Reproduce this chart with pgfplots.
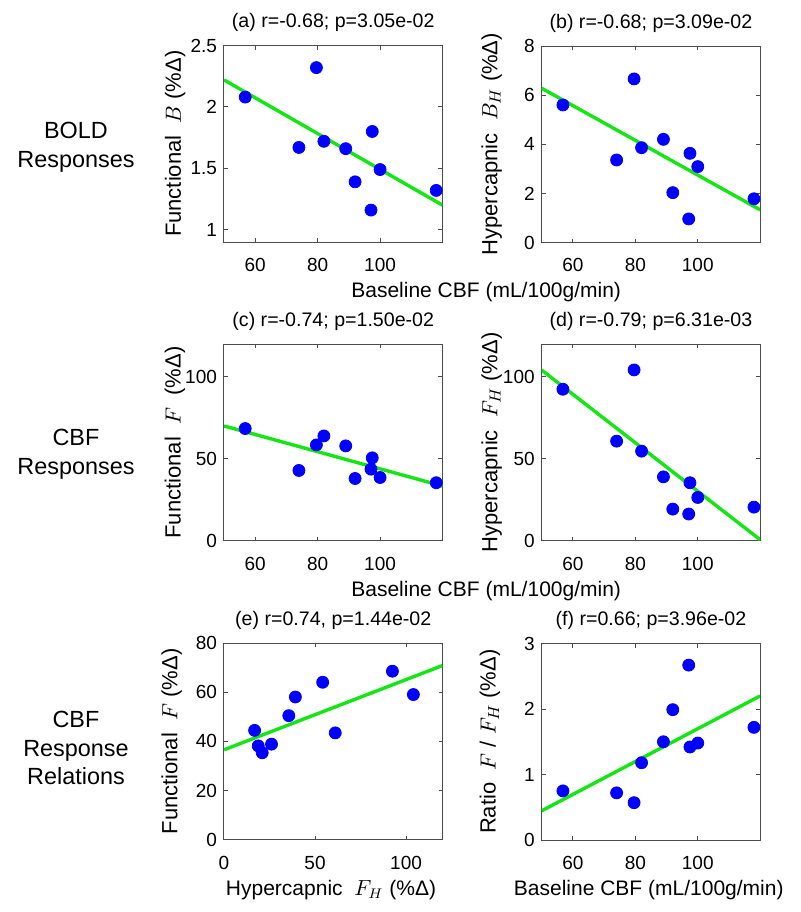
\documentclass[border=0pt]{standalone}
\usepackage{fontspec}
\setmainfont{Liberation Sans}
\usepackage{pgfplots}
\pgfplotsset{compat=1.18}
\definecolor{lgreen}{RGB}{20,230,20}
\pgfplotsset{
  panel/.style={
    scale only axis, width=109.25pt, height=98.25pt, anchor=south west,
    axis line style={black!70, line width=0.5pt},
    tick style={black!70, line width=0.5pt},
    tick align=inside, major tick length=2pt,
    tick label style={font=\fontsize{9.5}{11}\selectfont},
    xticklabel style={yshift=-4.5pt},
    /pgf/number format/assume math mode=true,
    every axis title shift=0pt,
    title style={font=\fontsize{9.8}{12}\selectfont, at={(axis description cs:0.5,1)}, anchor=center, yshift=11.5pt},
    ylabel style={font=\fontsize{11}{13}\selectfont, anchor=center},
    xlabel style={font=\fontsize{10.5}{12}\selectfont, anchor=center},
    scaled ticks=false,
  },
  cbfx/.style={xmin=50, xmax=120, xtick={60,80,100}},
  dots/.style={only marks, mark=*, mark size=3pt, color=blue, mark options={draw=blue, fill=blue}},
  fit/.style={no marks, color=lgreen, line width=1.7pt},
}
\begin{document}
\begin{tikzpicture}
\useasboundingbox (0,0) rectangle (400pt,-456pt);

% (a)
\begin{axis}[panel, cbfx, at={(112pt,-121pt)},
  ymin=0.9, ymax=2.5, ytick={1,1.5,2,2.5},
  title={(a) r=-0.68; p=3.05e-02},
  ylabel={Functional\ \ $B$ (\%Δ)},
  ylabel style={at={(axis description cs:-0.224,0.5)}},
  xlabel={Baseline CBF (mL/100g/min)},
  xlabel style={at={(axis description cs:1.2,-0.255)}}]
\addplot[fit] coordinates {(50,2.22) (120,1.20)};
\addplot[dots] coordinates {(56.8,2.08) (74,1.67) (79.6,2.32) (82,1.72) (89,1.66) (92,1.39) (97.1,1.16) (97.5,1.80) (100,1.49) (118,1.32)};
\end{axis}

% (b)
\begin{axis}[panel, cbfx, at={(270.85pt,-121.25pt)},
  ymin=0, ymax=8, ytick={0,2,4,6,8},
  title={(b) r=-0.68; p=3.09e-02},
  ylabel={Hypercapnic\ \ $B_H$ (\%Δ)},
  ylabel style={at={(axis description cs:-0.229,0.5)}}]
\addplot[fit] coordinates {(50,6.28) (120,1.33)};
\addplot[dots] coordinates {(56.8,5.60) (74,3.36) (79.6,6.66) (82,3.86) (89,4.20) (92,2.03) (97.1,0.96) (97.5,3.63) (100,3.09) (118,1.78)};
\end{axis}

% (c)
\begin{axis}[panel, cbfx, at={(112pt,-270.35pt)},
  ymin=0, ymax=120, ytick={0,50,100},
  title={(c) r=-0.74; p=1.50e-02},
  ylabel={Functional\ \ $F$\ \ (\%Δ)},
  ylabel style={at={(axis description cs:-0.224,0.5)}},
  xlabel={Baseline CBF (mL/100g/min)},
  xlabel style={at={(axis description cs:1.2,-0.255)}}]
\addplot[fit] coordinates {(50,70.1) (120,33.4)};
\addplot[dots] coordinates {(56.8,68.5) (74,42.9) (79.6,58.5) (82,64.0) (89,57.9) (92,38.0) (97.1,43.7) (97.5,50.6) (100,38.6) (118,35.4)};
\end{axis}

% (d)
\begin{axis}[panel, cbfx, at={(270.85pt,-270.35pt)},
  ymin=0, ymax=120, ytick={0,50,100},
  title={(d) r=-0.79; p=6.31e-03},
  ylabel={Hypercapnic\ \ $F_H$ (\%Δ)},
  ylabel style={at={(axis description cs:-0.229,0.5)}}]
\addplot[fit] coordinates {(50,104.2) (120,0.6)};
\addplot[dots] coordinates {(56.8,92.5) (74,60.8) (79.6,104.3) (82,54.7) (89,39.0) (92,19.3) (97.1,16.3) (97.5,35.4) (100,26.4) (118,20.5)};
\end{axis}

% (e)
\begin{axis}[panel, at={(112pt,-419.85pt)},
  xmin=0, xmax=120, xtick={0,50,100},
  ymin=0, ymax=80, ytick={0,20,40,60,80},
  title={(e) r=0.74, p=1.44e-02},
  ylabel={Functional\ \ $F$\ (\%Δ)},
  ylabel style={at={(axis description cs:-0.239,0.5)}},
  xlabel={Hypercapnic\ \ $F_H$ (\%Δ)},
  xlabel style={at={(axis description cs:0.49,-0.255)}}]
\addplot[fit] coordinates {(0,36.6) (120,70.9)};
\addplot[dots] coordinates {(92.5,68.6) (104.0,59.1) (54.2,64.1) (39.2,58.1) (35.6,50.5) (61.1,43.5) (16.8,44.5) (18.8,38.2) (21.0,35.4) (26.1,38.9)};
\end{axis}

% (f)
\begin{axis}[panel, cbfx, at={(270.85pt,-420pt)},
  ymin=0, ymax=3, ytick={0,1,2,3},
  title={(f) r=0.66; p=3.96e-02},
  ylabel={Ratio\ \ $F$ / $F_H$ (\%Δ)},
  ylabel style={at={(axis description cs:-0.237,0.5)}},
  xlabel={Baseline CBF (mL/100g/min)},
  xlabel style={at={(axis description cs:0.49,-0.255)}}]
\addplot[fit] coordinates {(50,0.446) (120,2.20)};
\addplot[dots] coordinates {(56.8,0.75) (74,0.72) (79.6,0.57) (82,1.18) (89,1.50) (92,1.99) (97.1,2.67) (97.5,1.42) (100,1.48) (118,1.72)};
\end{axis}

\node[align=center, font=\fontsize{11.7}{14.3}\selectfont] at (38pt,-73.75pt) {BOLD\\Responses};
\node[align=center, font=\fontsize{11.7}{14.3}\selectfont] at (38pt,-227pt) {CBF\\Responses};
\node[align=center, font=\fontsize{11.7}{14.3}\selectfont] at (38pt,-374pt) {CBF\\Response\\Relations};
\end{tikzpicture}
\end{document}
